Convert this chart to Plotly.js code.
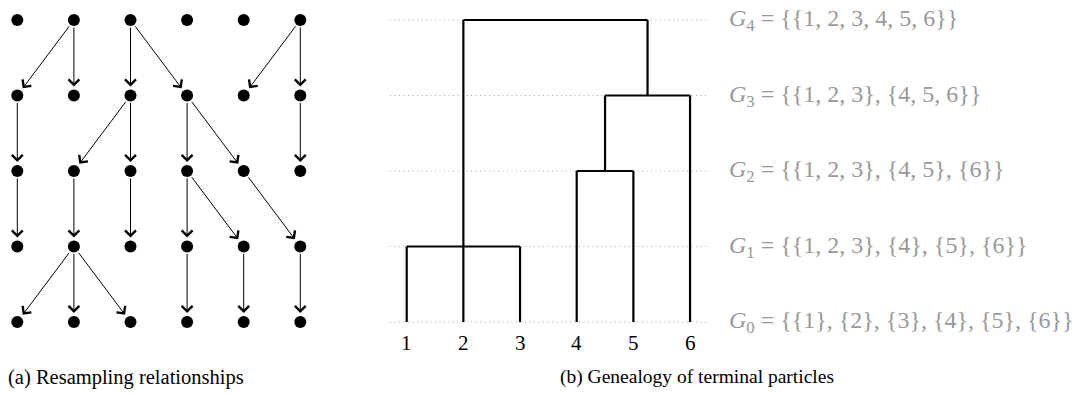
<!DOCTYPE html>
<html>
<head>
<meta charset="utf-8">
<script src="https://cdn.plot.ly/plotly-3.0.1.min.js"></script>
<style>html,body{margin:0;padding:0;background:#fff;}#chart{width:1090px;height:394px;}</style>
</head>
<body>
<div id="chart"></div>
<script>
// ---------------- DATA ----------------
const particles = [1, 2, 3, 4, 5, 6];          // particle / leaf labels
const generations = [0, 1, 2, 3, 4];           // time steps (top to bottom)
// ancestor (0-based column in previous generation) of each particle
const ancestorsGen1 = [1, 1, 2, 2, 5, 5];
const ancestorsGen2 = [0, 2, 2, 3, 3, 5];
const ancestorsGen3 = [0, 1, 2, 3, 3, 4];
const ancestorsGen4 = [1, 1, 1, 3, 4, 5];
const levels = [0, 1, 2, 3, 4];                // genealogy levels G0..G4
const captionA = '(a) Resampling relationships';
const captionB = '(b) Genealogy of terminal particles';

// ---------------- LAYOUT CONSTANTS ----------------
const W = 1090, H = 394;
const FONT = 'Liberation Serif, DejaVu Serif, serif';
const colPx0 = 17.3, pxPerCol = 56.6;
const rowPx0 = 20, pxPerRow = 75.5;
const leafPx0 = 406.7, pxPerLeaf = 56.67;
const level0Px = 322;

const ancestors = [null, ancestorsGen1, ancestorsGen2, ancestorsGen3, ancestorsGen4];

// ---------------- PANEL (a) ----------------
const dotX = [], dotY = [];
generations.forEach(g => particles.forEach((p, i) => { dotX.push(i); dotY.push(g); }));

const annotations = [];
for (let g = 1; g < generations.length; g++) {
  ancestors[g].forEach((a, i) => {
    annotations.push({
      xref: 'x', yref: 'y', axref: 'x', ayref: 'y',
      x: i, y: generations[g], ax: a, ay: generations[g - 1],
      text: '', showarrow: true, arrowhead: 4, arrowsize: 2.1, arrowwidth: 1,
      arrowcolor: '#000', standoff: 9, startstandoff: 6
    });
  });
}

// ---------------- PANEL (b) genealogy ----------------
const last = generations.length - 1;
const partitions = [];
let anc = particles.map((p, i) => i);
levels.forEach(L => {
  if (L > 0) anc = anc.map(a => ancestors[last - L + 1][a]);
  const groups = [];
  const seen = {};
  anc.forEach((a, i) => {
    if (!(a in seen)) { seen[a] = groups.length; groups.push([]); }
    groups[seen[a]].push(particles[i]);
  });
  partitions.push(groups);
});

// dendrogram segments
const segX = [], segY = [];
let nodes = particles.map(p => ({ members: [p], pos: p, base: 0 }));
for (let L = 1; L < levels.length; L++) {
  const newNodes = [];
  partitions[L].forEach(grp => {
    const kids = nodes.filter(n => grp.includes(n.members[0]));
    if (kids.length === 1) { newNodes.push(kids[0]); return; }
    kids.forEach(k => { segX.push(k.pos, k.pos, null); segY.push(k.base, levels[L], null); });
    const ps = kids.map(k => k.pos);
    const lo = Math.min(...ps), hi = Math.max(...ps);
    segX.push(lo, hi, null); segY.push(levels[L], levels[L], null);
    newNodes.push({ members: grp, pos: (lo + hi) / 2, base: levels[L] });
  });
  nodes = newNodes;
}

// dotted guide lines
const dotLeft = 1 + (390 - leafPx0) / pxPerLeaf;
const dotRight = 1 + (706 - leafPx0) / pxPerLeaf;
const guideX = [], guideY = [];
levels.forEach(L => { guideX.push(dotLeft, dotRight, null); guideY.push(L, L, null); });

// partition labels
const labelX = 1 + (727 - leafPx0) / pxPerLeaf;
levels.forEach(L => {
  const txt = '<i>G</i><sub>' + L + '</sub> = {' +
    partitions[L].map(g => '{' + g.join(', ') + '}').join(', ') + '}';
  annotations.push({
    xref: 'x2', yref: 'y2', x: labelX, y: L, xanchor: 'left', yanchor: 'middle',
    text: txt, showarrow: false, font: { family: FONT, size: 24, color: '#999999' }
  });
});
// leaf labels
particles.forEach(p => {
  annotations.push({
    xref: 'x2', yref: 'y2', x: p, y: levels[0], yshift: -21, xanchor: 'center', yanchor: 'middle',
    text: String(p), showarrow: false, font: { family: FONT, size: 21, color: '#000' }
  });
});
// captions
annotations.push({ xref: 'paper', yref: 'paper', x: 6 / W, y: 1 - 377 / H, xanchor: 'left', yanchor: 'middle',
  text: captionA, showarrow: false, font: { family: FONT, size: 20.5, color: '#000' } });
annotations.push({ xref: 'paper', yref: 'paper', x: 697 / W, y: 1 - 377 / H, xanchor: 'center', yanchor: 'middle',
  text: captionB, showarrow: false, font: { family: FONT, size: 19.5, color: '#000' } });

const traces = [
  { type: 'scatter', mode: 'markers', x: dotX, y: dotY, xaxis: 'x', yaxis: 'y',
    marker: { size: 12, color: '#000' }, hoverinfo: 'skip' },
  { type: 'scatter', mode: 'lines', x: guideX, y: guideY, xaxis: 'x2', yaxis: 'y2',
    line: { color: '#a8a8a8', width: 1, dash: '1px,3.5px' }, hoverinfo: 'skip' },
  { type: 'scatter', mode: 'lines', x: segX, y: segY, xaxis: 'x2', yaxis: 'y2',
    line: { color: '#000', width: 2.2 }, hoverinfo: 'skip' }
];

const ax = { visible: false, fixedrange: true, showgrid: false, zeroline: false };
const layout = {
  width: W, height: H, margin: { l: 0, r: 0, t: 0, b: 0 }, showlegend: false,
  paper_bgcolor: '#fff', plot_bgcolor: '#fff',
  xaxis: Object.assign({}, ax, { domain: [0, 1], range: [-colPx0 / pxPerCol, (W - colPx0) / pxPerCol] }),
  yaxis: Object.assign({}, ax, { domain: [0, 1], range: [(H - rowPx0) / pxPerRow, -rowPx0 / pxPerRow] }),
  xaxis2: Object.assign({}, ax, { domain: [0, 1], overlaying: 'x', anchor: 'y2',
    range: [1 - leafPx0 / pxPerLeaf, 1 + (W - leafPx0) / pxPerLeaf] }),
  yaxis2: Object.assign({}, ax, { domain: [0, 1], overlaying: 'y', anchor: 'x2',
    range: [-(H - level0Px) / pxPerRow, level0Px / pxPerRow] }),
  annotations: annotations
};

Plotly.newPlot('chart', traces, layout, { staticPlot: true, displayModeBar: false });
</script>
</body>
</html>
